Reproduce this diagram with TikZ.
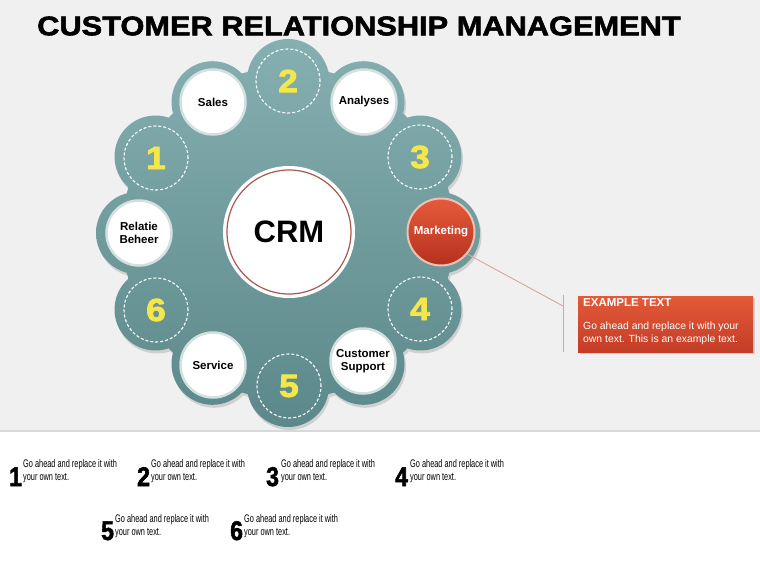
\documentclass[tikz,border=0pt]{standalone}
\usepackage{fontspec}
\setmainfont{Liberation Sans}
\newfontfamily\titlef[FakeStretch=1.14,FakeBold=2]{Liberation Sans}
\newfontfamily\numf[FakeStretch=1.1,FakeBold=2.5]{Liberation Sans}
\newfontfamily\narrowf[FakeStretch=0.67]{Liberation Sans}
\newfontfamily\bignumf[FakeStretch=0.85,FakeBold=2]{Liberation Sans}
\usetikzlibrary{shadows}
\definecolor{bggray}{HTML}{F0F0F0}
\definecolor{tealtop}{HTML}{86AFB1}
\definecolor{tealbot}{HTML}{5B888A}
\definecolor{ringc}{HTML}{D3E0E0}
\definecolor{numyel}{HTML}{F4E74A}
\definecolor{redtop}{HTML}{E65B3B}
\definecolor{redbot}{HTML}{B5301E}
\definecolor{redring}{HTML}{EDC2B4}
\definecolor{crmred}{HTML}{A9574F}
\definecolor{callline}{HTML}{D9A698}
\definecolor{linegray}{HTML}{D8D8D8}
\definecolor{boxtop}{HTML}{E35A38}
\definecolor{boxbot}{HTML}{C43C26}
\begin{document}
\begin{tikzpicture}[x=1pt,y=-1pt,
  whitec/.style={circle, fill=white, draw=ringc, line width=2.5pt, minimum size=65pt, inner sep=0pt, align=center, font=\bfseries\fontsize{11.5}{13}\selectfont},
  dashc/.style={circle, draw=white, dash pattern=on 3pt off 2pt, line width=1.1pt, minimum size=64pt, inner sep=0pt, text=numyel, font={\numf\bfseries\fontsize{32}{32}\selectfont}},
  mkc/.style={circle, top color=redtop, bottom color=redbot, draw=redring, line width=2pt, minimum size=67pt, inner sep=0pt, text=white, font=\bfseries\fontsize{11.5}{13}\selectfont},
  bnum/.style={anchor=base west, inner sep=0pt, font={\bignumf\bfseries\fontsize{27}{27}\selectfont}},
  btext/.style={anchor=north west, inner sep=0pt, align=left, font={\narrowf\fontsize{11}{13}\selectfont}},
  wheel/.style={insert path={(288,233) circle (166pt)
     (288,80) circle (41pt) (363.5,102.2) circle (41pt) (420.5,156.5) circle (41pt)
     (439,233) circle (41pt) (420.5,309.5) circle (41pt) (363.5,363.8) circle (41pt)
     (288,386) circle (41pt) (212.5,363.8) circle (41pt) (155.5,309.5) circle (41pt)
     (137,233) circle (41pt) (155.5,156.5) circle (41pt) (212.5,102.2) circle (41pt)}}
]
\useasboundingbox (0,0) rectangle (760,570);
\fill[bggray] (0,0) rectangle (760,431);
\fill[white] (0,431) rectangle (760,570);
\draw[linegray, line width=1.5pt] (0,431) -- (760,431);

% title
\node[anchor=west, inner sep=0pt, font={\titlef\fontsize{27}{30}\selectfont\bfseries}] (title) at (37,26) {CUSTOMER RELATIONSHIP MANAGEMENT};

% wheel
\begin{scope}[shift={(1.5,3)}]
\fill[black, opacity=0.13, nonzero rule, wheel];
\end{scope}
\shade[top color=tealtop, bottom color=tealbot, nonzero rule, wheel];

% centre
\fill[white] (289,232) circle (66pt);
\node[circle, fill=white, draw=crmred, line width=1.2pt, minimum size=124pt, inner sep=0pt, font=\bfseries\fontsize{31}{31}\selectfont] (crm) at (289,232) {CRM};

% ring items
\node[dashc] (n2) at (288,81) {2};
\node[whitec] (analyses) at (364,102) {Analyses};
\node[dashc] (n3) at (420,157) {3};
\node[mkc] (mk) at (441,232) {Marketing};
\node[dashc] (n4) at (420,309) {4};
\node[whitec] (support) at (363,361) {Customer\\Support};
\node[dashc] (n5) at (289,386) {5};
\node[whitec] (service) at (213,365) {Service};
\node[dashc] (n6) at (156,310) {6};
\node[whitec] (relatie) at (139,233) {Relatie\\Beheer};
\node[dashc] (n1) at (156,158) {1};
\node[whitec] (sales) at (213,102) {Sales};

% callout
\coordinate (elbow) at (563,306);
\coordinate (vtop) at (563,295);
\coordinate (vbot) at (563,352);
\draw[callline, line width=0.9pt] (mk.-40) -- (elbow);
\draw[callline, line width=0.9pt] (vtop) -- (vbot);
\node[anchor=north west, minimum width=175pt, minimum height=56pt, inner sep=0pt, top color=boxtop, bottom color=boxbot,
      drop shadow={opacity=0.3, shadow xshift=1.5pt, shadow yshift=-1.5pt}] (box) at (578,296) {};
\node[anchor=north west, inner sep=0pt, text=white, font=\bfseries\fontsize{11.5}{13}\selectfont] (boxtitle) at (583,298) {EXAMPLE TEXT};
\node[anchor=north west, inner sep=0pt, text=white, align=left, font=\fontsize{10.4}{12.6}\selectfont] (boxbody) at (583,322) {Go ahead and replace it with your\\own text. This is an example text.};

% bottom list
\node[bnum] (b1) at (9,486) {1};
\node[btext] (t1) at (23,459) {Go ahead and replace it with\\your own text.};
\node[bnum] (b2) at (137,486) {2};
\node[btext] (t2) at (151,459) {Go ahead and replace it with\\your own text.};
\node[bnum] (b3) at (266,486) {3};
\node[btext] (t3) at (281,459) {Go ahead and replace it with\\your own text.};
\node[bnum] (b4) at (395,486) {4};
\node[btext] (t4) at (410,459) {Go ahead and replace it with\\your own text.};
\node[bnum] (b5) at (101,540) {5};
\node[btext] (t5) at (115,514) {Go ahead and replace it with\\your own text.};
\node[bnum] (b6) at (230,540) {6};
\node[btext] (t6) at (244,514) {Go ahead and replace it with\\your own text.};
\end{tikzpicture}
\end{document}
